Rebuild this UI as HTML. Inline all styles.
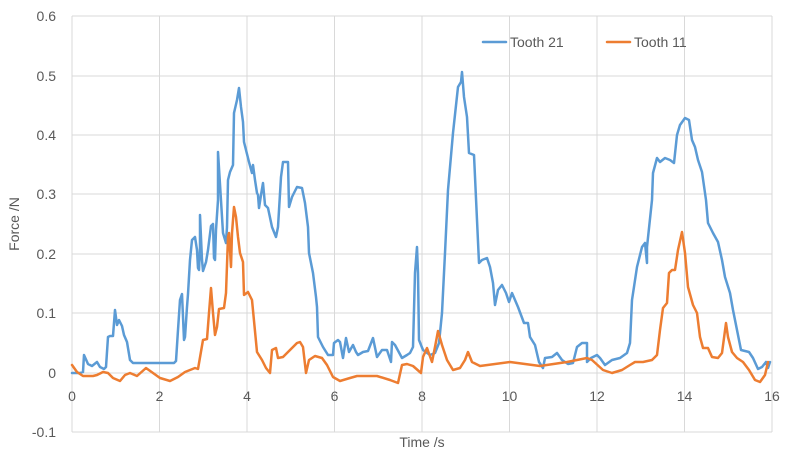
<!DOCTYPE html>
<html><head><meta charset="utf-8"><style>
body{margin:0;background:#fff;}
svg{display:block;font-family:"Liberation Sans",sans-serif;}
</style></head><body>
<svg width="788" height="460" viewBox="0 0 788 460">
<g stroke="#d9d9d9" stroke-width="1">
<line x1="72" y1="16" x2="772" y2="16"/><line x1="72" y1="76" x2="772" y2="76"/><line x1="72" y1="135" x2="772" y2="135"/><line x1="72" y1="194" x2="772" y2="194"/><line x1="72" y1="254" x2="772" y2="254"/><line x1="72" y1="313" x2="772" y2="313"/><line x1="72" y1="373" x2="772" y2="373"/><line x1="72" y1="432" x2="772" y2="432"/>
<line x1="72" y1="16" x2="72" y2="432"/><line x1="159.5" y1="16" x2="159.5" y2="432"/><line x1="247" y1="16" x2="247" y2="432"/><line x1="334.5" y1="16" x2="334.5" y2="432"/><line x1="422" y1="16" x2="422" y2="432"/><line x1="509.5" y1="16" x2="509.5" y2="432"/><line x1="597" y1="16" x2="597" y2="432"/><line x1="684.5" y1="16" x2="684.5" y2="432"/><line x1="772" y1="16" x2="772" y2="432"/>
</g>
<g fill="#595959" font-size="14" text-anchor="end">
<text x="56" y="21">0.6</text><text x="56" y="81">0.5</text><text x="56" y="140">0.4</text><text x="56" y="199">0.3</text><text x="56" y="259">0.2</text><text x="56" y="318">0.1</text><text x="56" y="378">0</text><text x="56" y="437">-0.1</text>
</g>
<g fill="#595959" font-size="14" text-anchor="middle">
<text x="72" y="401">0</text><text x="159.5" y="401">2</text><text x="247" y="401">4</text><text x="334.5" y="401">6</text><text x="422" y="401">8</text><text x="509.5" y="401">10</text><text x="597" y="401">12</text><text x="684.5" y="401">14</text><text x="772" y="401">16</text>
<text x="422" y="447">Time /s</text>
<text transform="translate(19,224) rotate(-90)">Force /N</text>
</g>
<g fill="none" stroke-width="2.5" stroke-linejoin="round" stroke-linecap="round">
<polyline stroke="#5b9bd5" points="72,373 80,373 83,372 84,355 88,364 92,366 97,362 100,367 104,369 106,367 108,337 110,336 113,336 115,310 117,325 119,320 122,326 124,335 127,342 130,360 133,363 140,363 160,363 174,363 176,361 178,330 180,300 182,294 184,340 185,337 187,307 188,294 190,260 192,240 195,237 197,250 198,268 199,270 200,247 200,215 202,260 203,271 206,262 208,250 211,226 213,224 214,258 215,260 216,230 218,200 218,152 223,233 226,243 227,227 228,180 230,172 233,165 234,113 237,100 239,88 241,107 243,122 244,142 246,150 249,162 252,173 253,165 255,180 257,193 258,195 259,208 261,195 263,183 265,205 268,208 272,227 276,237 278,227 281,177 283,162 288,162 289,207 292,197 297,187 302,188 305,203 308,227 309,253 313,273 316,297 317,307 318,337 323,347 328,355 333,355 334,343 338,340 340,342 343,358 346,338 349,352 353,345 356,352 358,355 363,352 368,351 373,338 377,357 382,350 387,350 391,362 392,342 395,345 402,358 407,355 410,353 413,347 415,273 417,247 418,273 419,340 423,350 430,355 435,353 439,343 442,313 445,253 448,190 453,133 458,87 461,82 462,72 464,97 467,117 469,153 474,155 477,220 479,263 482,260 487,258 490,267 493,283 495,305 498,290 502,285 506,293 509,302 512,293 518,307 524,323 528,323 530,337 535,345 539,362 543,368 545,358 552,357 557,353 562,360 568,364 573,363 577,347 582,343 587,343 587,362 591,358 597,355 600,358 605,365 612,360 620,358 627,353 630,343 632,300 637,267 642,247 645,243 647,263 647,247 652,200 653,173 657,158 660,162 665,158 670,160 674,163 677,135 680,125 685,118 689,120 692,140 695,147 698,160 702,172 706,200 708,223 713,233 718,242 722,260 725,277 730,293 733,310 737,330 741,350 749,352 753,358 758,369 762,367 766,362 768,368 770,362"/>
<polyline stroke="#ed7d31" points="72,365 77,372 83,376 93,376 97,375 103,372 108,373 113,378 120,381 125,375 130,373 137,376 146,368 153,373 160,378 170,381 178,377 185,372 195,368 198,369 203,340 207,339 209,313 211,288 213,313 215,335 217,327 219,309 224,308 226,293 228,237 229,233 231,267 232,233 234,207 236,217 238,237 240,253 243,262 244,295 248,292 252,300 257,352 262,360 266,368 270,373 272,350 276,348 278,358 283,357 290,350 297,343 300,342 303,347 306,373 309,360 315,356 322,358 327,365 333,377 340,381 350,378 357,376 377,376 390,380 398,383 402,365 407,364 413,366 421,373 423,357 427,348 432,362 435,347 438,331 442,345 447,360 453,370 460,368 465,360 468,352 472,362 480,366 510,362 540,366 567,362 587,358 592,360 603,370 612,373 622,370 630,365 635,362 643,362 652,360 657,355 660,330 663,308 667,303 669,273 672,270 675,270 678,250 682,232 685,253 688,287 693,305 697,313 700,337 703,348 708,348 712,357 718,358 722,353 726,323 728,337 732,352 737,358 743,362 749,370 755,380 760,382 765,375 768,362"/>
<line x1="483" y1="42" x2="506" y2="42" stroke="#5b9bd5"/>
<line x1="607" y1="42" x2="630" y2="42" stroke="#ed7d31"/>
</g>
<g fill="#595959" font-size="14">
<text x="510" y="47">Tooth 21</text><text x="634" y="47">Tooth 11</text>
</g>
</svg>
</body></html>
